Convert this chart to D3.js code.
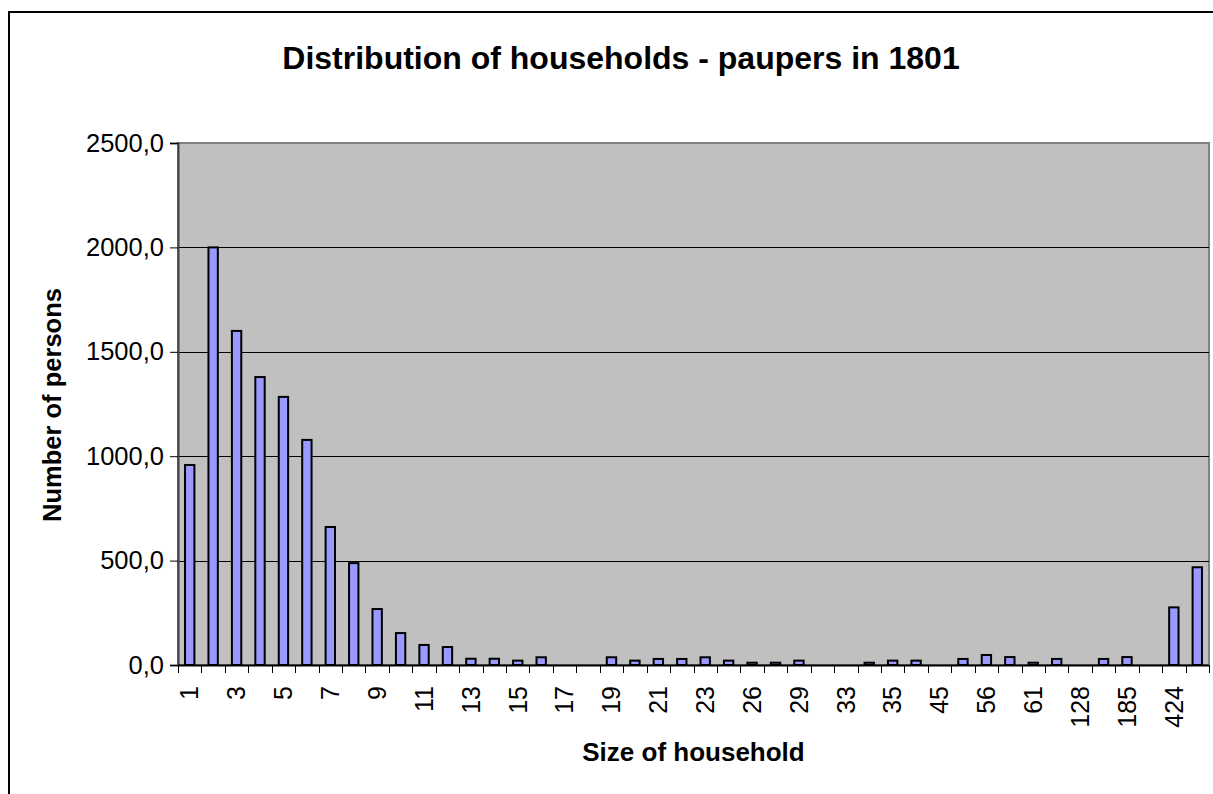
<!DOCTYPE html>
<html>
<head>
<meta charset="utf-8">
<script src="https://cdn.jsdelivr.net/npm/d3@7"></script>
<style>
  html, body { margin: 0; padding: 0; background: #fff; overflow: hidden; }
  svg { display: block; }
  text { font-family: "Liberation Sans", Arial, sans-serif; fill: #000; }
</style>
</head>
<body>
<svg id="chart" width="1213" height="794"></svg>
<script>
// ---- data ----
const categories = ["1","2","3","4","5","6","7","8","9","10","11","12","13","14","15","16","17","18","19","20","21","22","23","24","26","27","29","30","33","34","35","40","45","50","56","58","61","64","128","150","185","200","424","448"];
const persons = [958,2000,1600,1379,1284,1078,661,488,268,153,96,86,30,30,21,37,0,0,37,21,29,29,37,21,11,11,21,0,0,11,21,21,0,29,48,38,11,29,0,29,38,0,276,468];
const yTicks = [0,500,1000,1500,2000,2500];
const labelledCategories = categories.filter((c, i) => i % 2 === 0);
const titleText = "Distribution of households - paupers in 1801";
const xTitle = "Size of household";
const yTitle = "Number of persons";

// ---- layout ----
const svg = d3.select("#chart");
const L = 178, R = 1209, T = 143, B = 665;

// outer frame
svg.append("rect").attr("x", 9).attr("y", 12).attr("width", 1230).attr("height", 800)
  .attr("fill", "#fff").attr("stroke", "#000").attr("stroke-width", 2);

const x = d3.scaleBand().domain(categories).range([L, R]).padding(0);
const y = d3.scaleLinear().domain([0, 2500]).range([B, T]);

// plot area
svg.append("rect").attr("x", L).attr("y", T).attr("width", R - L).attr("height", B - T)
  .attr("fill", "#c0c0c0").attr("stroke", "#808080").attr("stroke-width", 2);

// gridlines
svg.append("g").selectAll("line").data(yTicks.filter(v => v > 0 && v < 2500)).join("line")
  .attr("x1", L).attr("x2", R).attr("y1", d => Math.round(y(d)) + 0.5).attr("y2", d => Math.round(y(d)) + 0.5)
  .attr("stroke", "#000").attr("stroke-width", 1);

// bars
const bw = x.bandwidth() / 2.5;
svg.append("g").selectAll("rect").data(categories.map((c, i) => ({c, v: persons[i]})).filter(d => d.v > 0)).join("rect")
  .attr("x", d => x(d.c) + (x.bandwidth() - bw) / 2)
  .attr("y", d => y(d.v))
  .attr("width", bw)
  .attr("height", d => B - y(d.v))
  .attr("fill", "#9999ff").attr("stroke", "#000").attr("stroke-width", 2);

// y axis
const yAxis = d3.axisLeft(y).tickValues(yTicks).tickSize(8).tickPadding(6)
  .tickFormat(d => d3.format(".1f")(d).replace(".", ","));
const gy = svg.append("g").attr("transform", `translate(${L},0)`).call(yAxis);
gy.select(".domain").attr("stroke", "#404040").attr("stroke-width", 2);
gy.selectAll(".tick line").attr("stroke", "#000");
gy.selectAll(".tick text").attr("font-size", 25.5).attr("font-family", "Liberation Sans, Arial, sans-serif").attr("fill", "#000");

// x axis (ticks at category boundaries)
const gx = svg.append("g").attr("transform", `translate(0,${B})`);
gx.append("line").attr("x1", L).attr("x2", R).attr("y1", 0.5).attr("y2", 0.5).attr("stroke", "#000").attr("stroke-width", 2);
const bounds = categories.map(c => x(c)).concat([R]);
gx.selectAll("line.tk").data(bounds).join("line").attr("class", "tk")
  .attr("x1", d => Math.round(d) + 0.5).attr("x2", d => Math.round(d) + 0.5)
  .attr("y1", 0).attr("y2", 8).attr("stroke", "#000");
gx.selectAll("text.lbl").data(labelledCategories).join("text").attr("class", "lbl")
  .attr("transform", d => `translate(${x(d) + x.bandwidth() / 2},21) rotate(-90)`)
  .attr("text-anchor", "end").attr("dy", "0.35em").attr("font-size", 25)
  .text(d => d);

// titles
svg.append("text").attr("x", 621).attr("y", 58).attr("text-anchor", "middle").attr("dy", "0.35em")
  .attr("font-size", 32).attr("font-weight", "bold").text(titleText);
svg.append("text").attr("x", (L + R) / 2).attr("y", 752).attr("text-anchor", "middle").attr("dy", "0.35em")
  .attr("font-size", 26).attr("font-weight", "bold").text(xTitle);
svg.append("text").attr("transform", "translate(52,405) rotate(-90)").attr("text-anchor", "middle").attr("dy", "0.35em")
  .attr("font-size", 25.5).attr("font-weight", "bold").text(yTitle);
</script>
</body>
</html>
